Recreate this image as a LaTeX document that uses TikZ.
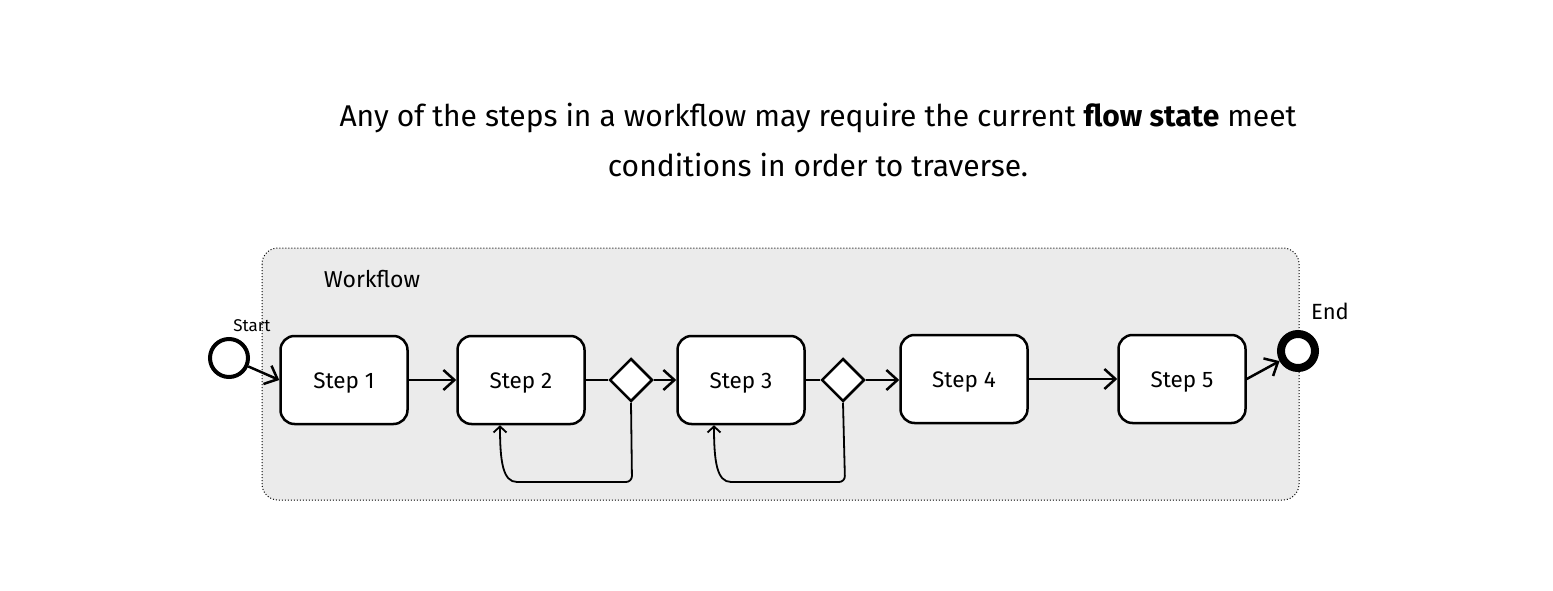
\documentclass[tikz,border=0pt]{standalone}
\usepackage{fontspec}
\setmainfont{Fira Sans}
\usepackage{tikz}
\usetikzlibrary{shapes.geometric,arrows.meta}
\definecolor{wfgray}{HTML}{EBEBEB}

\begin{document}
\begin{tikzpicture}[x=1pt, y=-1pt, >={Straight Barb[length=11pt,width=20pt]},
	stepbox/.style={draw, line width=2.5pt, fill=white, rounded corners=14pt, minimum width=127pt, minimum height=88pt, text height=16pt, text depth=0pt, font=\fontsize{22.5}{26}\selectfont},
	gate/.style={draw, diamond, line width=2.5pt, fill=white, minimum width=43pt, minimum height=43pt, inner sep=0pt},
	flow/.style={line width=2.5pt, ->},
	loopback/.style={line width=1.8pt, -{Straight Barb[length=6pt,width=13pt]}, rounded corners=6pt}]
	\fill[white] (0,0) rectangle (1553,591);
	% title
	\node[align=center, font=\fontsize{30}{50}\selectfont] (title) at (818,140) {Any of the steps in a workflow may require the current \textbf{flow state} meet\\conditions in order to traverse.};
	% workflow container
	\draw[black, dotted, line width=1pt, fill=wfgray, rounded corners=16pt] (262,248) rectangle (1299,500);
	\node[font=\fontsize{23}{26}\selectfont] (wflabel) at (372,279) {Workflow};
	% start and end
	\node[circle, draw, line width=4pt, fill=white, minimum size=38pt, inner sep=0pt] (start) at (229,358) {};
	\node[font=\fontsize{17}{20}\selectfont] (startlabel) at (252,326) {Start};
	\node[circle, draw, line width=8pt, fill=white, minimum size=34pt, inner sep=0pt] (endc) at (1298,351) {};
	\node[font=\fontsize{22}{26}\selectfont] (endlabel) at (1330,311) {End};
	% steps
	\node[stepbox] (step1) at (344,380) {Step 1};
	\node[stepbox] (step2) at (521,380) {Step 2};
	\node[gate] (gate1) at (631,380) {};
	\node[stepbox] (step3) at (741,380) {Step 3};
	\node[gate] (gate2) at (843,380) {};
	\node[stepbox] (step4) at (964,379) {Step 4};
	\node[stepbox] (step5) at (1182,379) {Step 5};
	% connectors
	\draw[flow] (start) -- (step1.west);
	\draw[flow] (step1) -- (step2);
	\draw[line width=2.5pt] (step2) -- (gate1);
	\draw[flow] (gate1) -- (step3);
	\draw[line width=2.5pt] (step3) -- (gate2);
	\draw[flow] (gate2) -- (step4.west |- gate2);
	\draw[flow] (step4) -- (step5);
	\draw[flow] (step5.east) -- (endc);
	% loops back
	\coordinate (turn1) at (632,482);
	\coordinate (turn2) at (845,482);
	\draw[loopback] (gate1.south) -- (turn1) -- (523,482) .. controls (503,482) and (500,462) .. ([xshift=-21pt]step2.south);
	\draw[loopback] (gate2.south) -- (turn2) -- (737,482) .. controls (717,482) and (714,462) .. ([xshift=-27pt]step3.south);
\end{tikzpicture}
\end{document}
